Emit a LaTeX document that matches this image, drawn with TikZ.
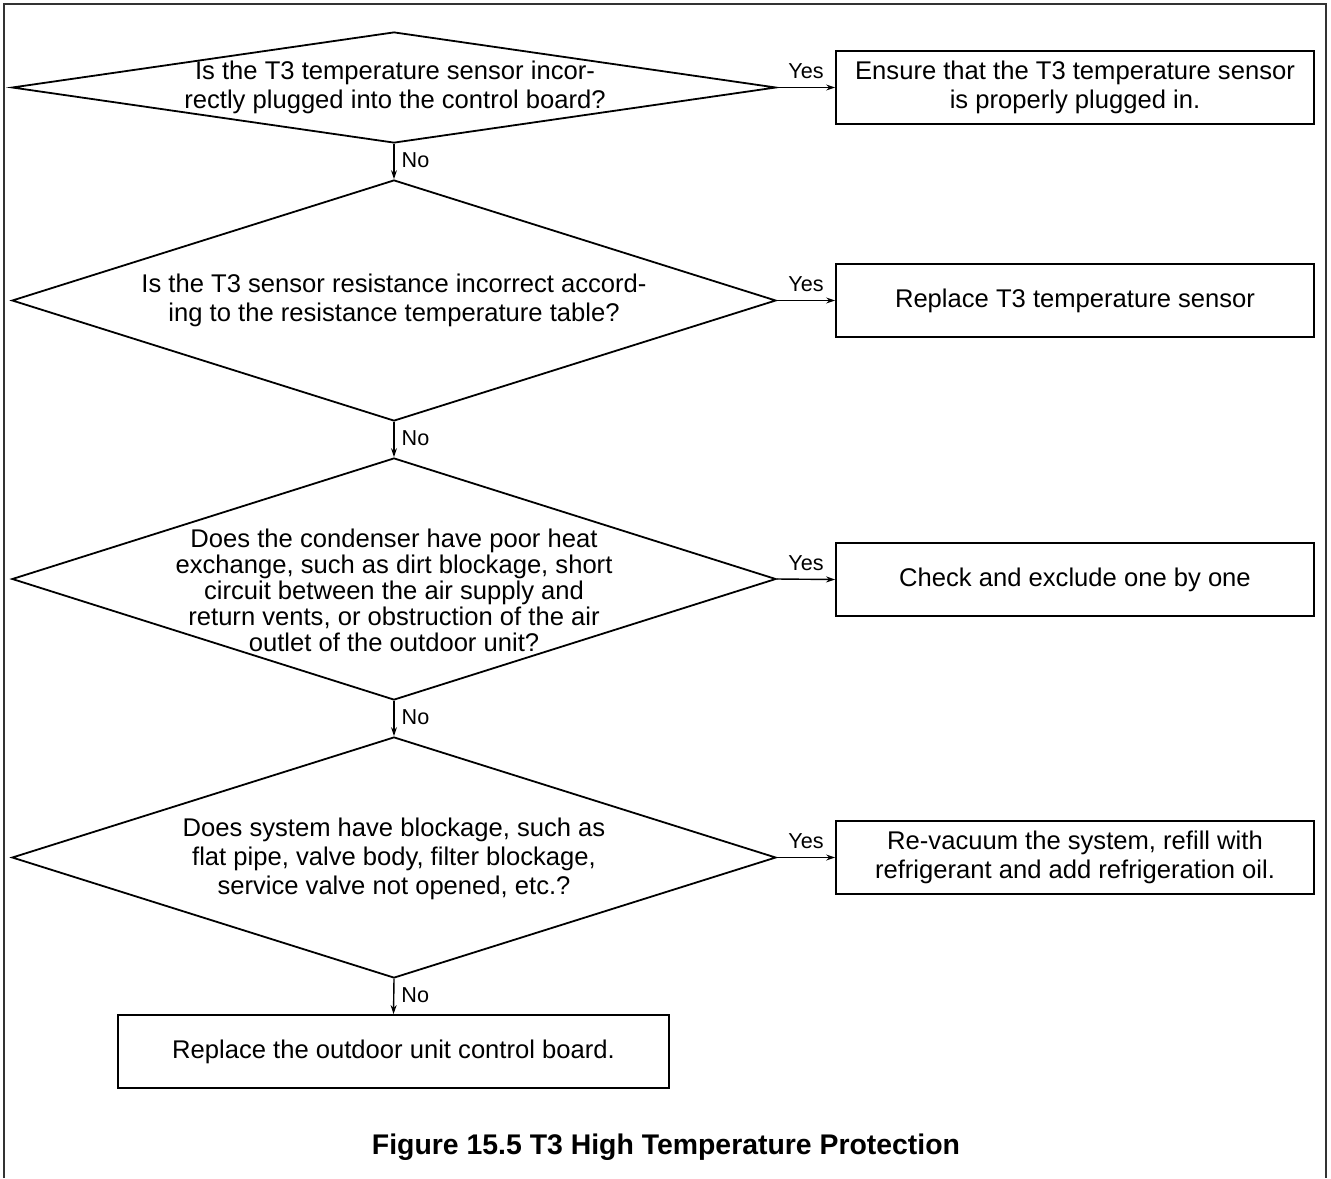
\documentclass[tikz,border=0pt]{standalone}
\usepackage{fontspec}
\setmainfont{Liberation Sans}
\usetikzlibrary{shapes.geometric,arrows.meta}
\begin{document}
\begin{tikzpicture}[x=0.5pt,y=-0.5pt,
  dia/.style={draw=black, line width=0.9pt, shape=diamond, inner sep=0pt, minimum width=382pt},
  actbox/.style={draw=black, line width=0.9pt, rectangle, inner sep=0pt, minimum width=239pt, minimum height=36.5pt, align=center, font=\fontsize{12.8}{14.5}\selectfont},
  qtext/.style={align=center, inner sep=0pt, font=\fontsize{12.8}{14.5}\selectfont},
  flow/.style={draw=black, line width=0.7pt, -{Stealth[length=4.5pt,width=3pt]}},
  lbl/.style={font=\fontsize{10.8}{12}\selectfont, inner sep=1pt}]
\useasboundingbox (0,0) rectangle (1331,1178);
\draw[line width=1pt, draw=black!80] (4,1178) -- (4,4) -- (1326,4) -- (1326,1178);
% diamonds
\node[dia, minimum height=55.5pt] (d1) at (394,87.5) {};
\node[dia, minimum height=120.5pt] (d2) at (394,300.5) {};
\node[dia, minimum height=121pt] (d3) at (394,579) {};
\node[dia, minimum height=120.5pt] (d4) at (394,857.5) {};
% question texts
\node[qtext] (q1) at (395,87) {Is the T3 temperature sensor incor-\\rectly plugged into the control board?};
\node[qtext] (q2) at (394,300) {Is the T3 sensor resistance incorrect accord-\\ing to the resistance temperature table?};
\node[qtext, font=\fontsize{12.8}{13}\selectfont] (q3) at (394,590) {Does the condenser have poor heat\\exchange, such as dirt blockage, short\\circuit between the air supply and\\return vents, or obstruction of the air\\outlet of the outdoor unit?};
\node[qtext] (q4) at (394,859) {Does system have blockage, such as\\flat pipe, valve body, filter blockage,\\service valve not opened, etc.?};
% action boxes
\node[actbox] (b1) at (1075,87.5) {Ensure that the T3 temperature sensor\\is properly plugged in.};
\node[actbox] (b2) at (1075,300.5) {Replace T3 temperature sensor};
\node[actbox] (b3) at (1075,579.5) {Check and exclude one by one};
\node[actbox] (b4) at (1075,857.5) {Re-vacuum the system, refill with\\refrigerant and add refrigeration oil.};
\node[actbox, minimum width=275.5pt] (b5) at (393.5,1051.5) {Replace the outdoor unit control board.};
% yes arrows
\draw[flow] (d1.east) -- node[lbl, above=3pt, pos=0.5] {Yes} (b1.west);
\draw[flow] (d2.east) -- node[lbl, above=3pt, pos=0.5] {Yes} (b2.west);
\draw[flow] (d3.east) -- node[lbl, above=3pt, pos=0.5] {Yes} (b3.west);
\draw[flow] (d4.east) -- node[lbl, above=3pt, pos=0.5] {Yes} (b4.west);
% no arrows
\draw[flow] (d1.south) -- node[lbl, right=2.5pt, pos=0.45] {No} (d2.north);
\draw[flow] (d2.south) -- node[lbl, right=2.5pt, pos=0.45] {No} (d3.north);
\draw[flow] (d3.south) -- node[lbl, right=2.5pt, pos=0.45] {No} (d4.north);
\draw[flow] (d4.south) -- node[lbl, right=2.5pt, pos=0.45] {No} (b5.north);
% title
\node[font=\bfseries\fontsize{14.2}{16}\selectfont] (title) at (666,1147) {Figure 15.5 T3 High Temperature Protection};
\end{tikzpicture}
\end{document}
